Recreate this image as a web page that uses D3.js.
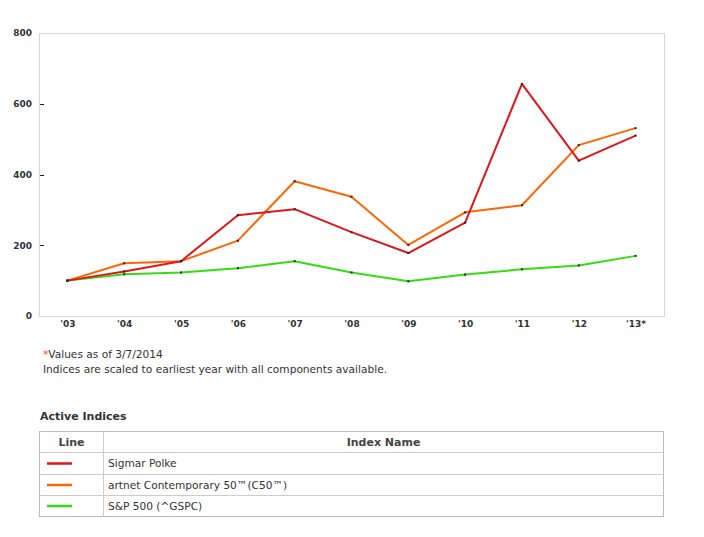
<!DOCTYPE html>
<html><head><meta charset="utf-8">
<script src="https://cdn.jsdelivr.net/npm/d3@7"></script>
<style>body{margin:0;background:#fff;} svg{display:block;}</style>
</head><body>
<svg id="c" width="704" height="537"></svg>
<script>
const years = ["'03","'04","'05","'06","'07","'08","'09","'10","'11","'12","'13*"];
const polke = [100,126,155,285,302,237,178,264,656,439,510];
const c50 = [100,149,155,213,381,337,201,293,313,483,531];
const sp500 = [100,118,123,135,155,123,98,117,132,143,170];
const yTicks = [0,200,400,600,800];
const seriesNames = ["Sigmar Polke","artnet Contemporary 50\u2122(C50\u2122)","S&P 500 (^GSPC)"];
const seriesColors = ["#e0161a","#ff6600","#33dd11"];

const svg = d3.select("#c");
const L=39,R=664,T=33,B=316;
const x = d3.scalePoint().domain(years).range([L,R]).padding(0.5);
const y = d3.scaleLinear().domain([0,800]).range([B,T]);
const font = "'DejaVu Sans', Verdana, sans-serif";

// frame
svg.append("rect").attr("x",L+0.5).attr("y",T+0.5).attr("width",R-L).attr("height",B-T)
  .attr("fill","none").attr("stroke","#d4d4d4").attr("stroke-width",1);

// y axis labels
const yAxis = svg.append("g").attr("transform",`translate(${L},0)`)
  .call(d3.axisLeft(y).tickValues(yTicks).tickSize(0).tickPadding(7));
yAxis.select(".domain").remove();
yAxis.selectAll("text").attr("font-family",font).attr("font-weight","bold").attr("font-size","9px").attr("fill","#333");
// inner tick marks
svg.append("g").selectAll("line").data([200,400,600]).join("line")
  .attr("x1",L+1).attr("x2",L+5).attr("y1",d=>Math.round(y(d))+0.5).attr("y2",d=>Math.round(y(d))+0.5)
  .attr("stroke","#222").attr("stroke-width",1);

// x axis labels
const xAxis = svg.append("g").attr("transform",`translate(0,${B})`)
  .call(d3.axisBottom(x).tickSize(0).tickPadding(5));
xAxis.select(".domain").remove();
xAxis.selectAll("text").attr("font-family",font).attr("font-weight","bold").attr("font-size","9px").attr("fill","#333");

// lines
const line = d3.line().x((d,i)=>x(years[i])).y(d=>y(d));
const order = [2,1,0];
const datasets = [polke,c50,sp500];
order.forEach(k=>{
  svg.append("path").datum(datasets[k]).attr("d",line).attr("fill","none")
    .attr("stroke",seriesColors[k]).attr("stroke-width",2).attr("stroke-linejoin","round");
});
order.forEach(k=>{
  svg.append("g").selectAll("rect").data(datasets[k]).join("rect")
    .attr("x",(d,i)=>x(years[i])-1).attr("y",d=>y(d)-1).attr("width",2).attr("height",2).attr("fill","#222");
});

// notes
const note = svg.append("text").attr("x",43).attr("y",358).attr("font-family",font).attr("font-size","10.6px").attr("fill","#333");
note.append("tspan").attr("fill","#ff4411").text("*");
note.append("tspan").text("Values as of 3/7/2014");
svg.append("text").attr("x",43).attr("y",373).attr("font-family",font).attr("font-size","10.6px").attr("fill","#333")
  .text("Indices are scaled to earliest year with all components available.");

svg.append("text").attr("x",40).attr("y",420).attr("font-family",font).attr("font-size","11px").attr("font-weight","bold").attr("fill","#333")
  .text("Active Indices");

// table
const tL=39.5,tR=663.5,tT=431.5,rowsY=[431.5,452.5,474.5,495.5,516.5],colX=103.5;
const tg = svg.append("g");
tg.append("rect").attr("x",tL).attr("y",tT).attr("width",tR-tL).attr("height",rowsY[4]-tT).attr("fill","none").attr("stroke","#bbb");
tg.selectAll("line.r").data(rowsY.slice(1,4)).join("line").attr("x1",tL).attr("x2",tR).attr("y1",d=>d).attr("y2",d=>d).attr("stroke","#ccc");
tg.append("line").attr("x1",colX).attr("x2",colX).attr("y1",tT).attr("y2",rowsY[4]).attr("stroke","#ccc");
tg.append("text").attr("x",(tL+colX)/2).attr("y",446).attr("text-anchor","middle").attr("font-family",font).attr("font-size","11px").attr("font-weight","bold").attr("fill","#444").text("Line");
tg.append("text").attr("x",(colX+tR)/2).attr("y",446).attr("text-anchor","middle").attr("font-family",font).attr("font-size","11px").attr("font-weight","bold").attr("fill","#444").text("Index Name");
seriesNames.forEach((n,i)=>{
  const cy=(rowsY[i+1]+rowsY[i+2])/2;
  tg.append("line").attr("x1",47).attr("x2",72).attr("y1",cy).attr("y2",cy).attr("stroke",seriesColors[i]).attr("stroke-width",2.5);
  tg.append("text").attr("x",108).attr("y",cy+3.7).attr("font-family",font).attr("font-size","10.6px").attr("fill","#333").text(n);
});
</script>
</body></html>
